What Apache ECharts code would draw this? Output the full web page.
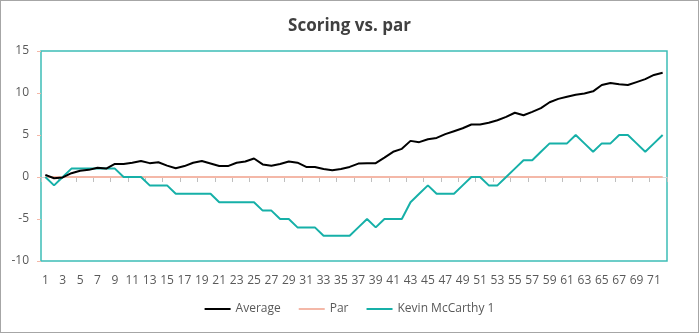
<!DOCTYPE html>
<html>
<head>
<meta charset="utf-8">
<script src="https://cdn.jsdelivr.net/npm/echarts@6/dist/echarts.min.js"></script>
<style>
html,body{margin:0;padding:0;background:#fff;}
#wrap{width:699px;height:333px;box-sizing:border-box;border:1px solid #A6A6A6;position:relative;}
#chart{position:absolute;left:-1px;top:-1px;width:699px;height:333px;}
</style>
</head>
<body>
<div id="wrap"><div id="chart"></div></div>
<script>
const titleText = "Scoring vs. par";
const categories = [];
for (let i = 1; i <= 72; i++) categories.push(String(i));
const averageValues = [0.25,-0.15,-0.05,0.45,0.75,0.85,1.1,1.0,1.55,1.55,1.7,1.9,1.65,1.75,1.35,1.05,1.3,1.7,1.9,1.6,1.3,1.3,1.7,1.85,2.2,1.5,1.35,1.55,1.85,1.7,1.2,1.2,0.95,0.8,0.95,1.2,1.6,1.65,1.65,2.3,3.0,3.35,4.3,4.15,4.5,4.65,5.1,5.45,5.8,6.25,6.25,6.45,6.75,7.15,7.65,7.35,7.75,8.2,8.9,9.3,9.55,9.8,9.95,10.2,10.95,11.2,11.05,10.95,11.3,11.65,12.15,12.4];
const parValues = categories.map(() => 0);
const kevinValues = [0,-1,0,1,1,1,1,1,1,0,0,0,-1,-1,-1,-2,-2,-2,-2,-2,-3,-3,-3,-3,-3,-4,-4,-5,-5,-6,-6,-6,-7,-7,-7,-7,-6,-5,-6,-5,-5,-5,-3,-2,-1,-2,-2,-2,-1,0,0,-1,-1,0,1,2,2,3,4,4,4,5,4,3,4,4,5,5,4,3,4,5];
const yTicks = {min: -10, max: 15, interval: 5};

const labelColor = '#595959';
const fontFam = '"Open Sans", "Noto Sans", sans-serif';
const lineIcon = 'rect';
const chart = echarts.init(document.getElementById('chart'));
chart.setOption({
  animation: false,
  title: {text: titleText, left: 'center', top: 13, textStyle: {fontFamily: fontFam, fontSize: 17, fontWeight: 'bold', color: '#404040'}},
  grid: {left: 41, right: 32, top: 51, bottom: 72, show: true, borderColor: '#3DBDB7', borderWidth: 1.5, backgroundColor: 'transparent'},
  legend: {
    bottom: 13, left: 'center', itemWidth: 26, itemHeight: 2, itemGap: 18,
    textStyle: {fontFamily: fontFam, fontSize: 12, color: labelColor},
    data: [
      {name: 'Average', icon: lineIcon},
      {name: 'Par', icon: lineIcon},
      {name: 'Kevin McCarthy 1', icon: lineIcon}
    ]
  },
  xAxis: [
    {type: 'category', data: categories, boundaryGap: true,
     axisLine: {show: true, onZero: true, lineStyle: {color: '#D9D9D9', width: 1}},
     axisTick: {show: true, length: 5, lineStyle: {color: '#BFBFBF'}},
     axisLabel: {show: false}, splitLine: {show: false}},
    {type: 'category', data: categories, boundaryGap: true, position: 'bottom',
     axisLine: {show: false, onZero: false}, axisTick: {show: false},
     axisLabel: {show: true, interval: 1, margin: 14, color: labelColor, fontSize: 12, fontFamily: fontFam}}
  ],
  yAxis: {type: 'value', min: yTicks.min, max: yTicks.max, interval: yTicks.interval,
    axisLine: {show: false}, axisTick: {show: true, length: 4, lineStyle: {color: '#F4B8A8'}},
    splitLine: {show: false},
    axisLabel: {color: labelColor, fontSize: 12, fontFamily: fontFam, margin: 12}},
  series: [
    {name: 'Average', type: 'line', data: averageValues, symbol: 'none', lineStyle: {color: '#000000', width: 2}, itemStyle: {color: '#000000'}, z: 4},
    {name: 'Par', type: 'line', data: parValues, symbol: 'none', lineStyle: {color: '#F4B8A8', width: 2}, itemStyle: {color: '#F4B8A8'}, z: 2},
    {name: 'Kevin McCarthy 1', type: 'line', data: kevinValues, symbol: 'none', lineStyle: {color: '#16B0A8', width: 2}, itemStyle: {color: '#16B0A8'}, z: 3}
  ]
});
</script>
</body>
</html>
